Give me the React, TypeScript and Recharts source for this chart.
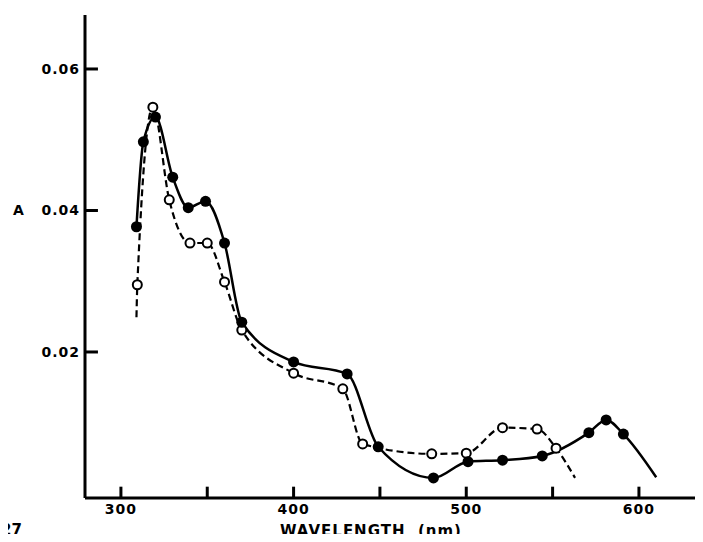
import { Line, LineChart, ReferenceLine, XAxis, YAxis } from 'recharts';

// absorbance spectra
const filledNm = [309, 313, 320, 330, 339, 349, 360, 370, 400, 431, 449, 481, 501, 521, 544, 571, 581, 591];
const filledA = [0.0377, 0.0497, 0.0532, 0.0447, 0.0404, 0.0413, 0.0354, 0.0242, 0.0186, 0.0169, 0.0066, 0.0022, 0.0045, 0.0047, 0.0053, 0.0086, 0.0104, 0.0084];
const filledTail = { nm: 610, a: 0.0023 };

const openNm = [309.5, 318.5, 328, 340, 350, 360, 370, 400, 428.5, 440, 480, 500, 521, 541, 552];
const openA = [0.0295, 0.0546, 0.0415, 0.0354, 0.0354, 0.0299, 0.0231, 0.017, 0.0148, 0.007, 0.0056, 0.0057, 0.0093, 0.0091, 0.0064];
const openHead = { nm: 309, a: 0.0249 };
const openTail = { nm: 563, a: 0.0022 };

const xTicks = [300, 350, 400, 450, 500, 550, 600];
const yTicks = [0.02, 0.04, 0.06];

const xDomain: [number, number] = [279.2, 637.1];
const yDomain: [number, number] = [-0.00064, 0.06763];

const filledData = [
  ...filledNm.map((nm, i) => ({ nm, a: filledA[i], marker: true })),
  { ...filledTail, marker: false },
];
const openData = [
  { ...openHead, marker: false },
  ...openNm.map((nm, i) => ({ nm, a: openA[i], marker: true })),
  { ...openTail, marker: false },
];

const font = '"DejaVu Sans", sans-serif';
const tickFont = { fontFamily: font, fontWeight: 'bold', fontSize: 14, fill: '#000', letterSpacing: 1 };

const filledDot = (p: any) =>
  p.payload.marker ? (
    <circle key={`f${p.index}`} cx={p.cx} cy={p.cy} r={5.5} fill="#000" />
  ) : (
    <g key={`f${p.index}`} />
  );

const openDot = (p: any) =>
  p.payload.marker ? (
    <circle key={`o${p.index}`} cx={p.cx} cy={p.cy} r={4.5} fill="#fff" stroke="#000" strokeWidth={2} />
  ) : (
    <g key={`o${p.index}`} />
  );

const textStyle = { position: 'absolute' as const, fontFamily: font, fontWeight: 'bold' as const, color: '#000', whiteSpace: 'pre' as const };

// inward tick marks, drawn as short segments from the axis (≈13 px / 11 px)
const yTickLen = 7.5; // nm
const xTickLen = 0.0016; // absorbance

export default function App() {
  return (
    <div style={{ margin: -8, position: 'relative', width: 703, height: 542, background: '#fff' }}>
      <LineChart width={703} height={542} margin={{ top: 15, right: 0, left: 84, bottom: 43 }}>
        <XAxis
          dataKey="nm"
          type="number"
          domain={xDomain}
          allowDataOverflow
          ticks={xTicks}
          interval={0}
          height={1}
          tickSize={0}
          tickMargin={6}
          tick={tickFont}
          tickFormatter={(v: number) => (v % 100 === 0 ? String(v) : '')}
          tickLine={false}
          axisLine={{ stroke: '#000', strokeWidth: 3 }}
        />
        <YAxis
          type="number"
          domain={yDomain}
          allowDataOverflow
          ticks={yTicks}
          interval={0}
          width={1}
          tickSize={0}
          tickMargin={5}
          tick={tickFont}
          tickFormatter={(v: number) => v.toFixed(2)}
          tickLine={false}
          axisLine={{ stroke: '#000', strokeWidth: 3 }}
        />
        {yTicks.map((t) => (
          <ReferenceLine
            key={`yt${t}`}
            segment={[{ x: xDomain[0], y: t }, { x: xDomain[0] + yTickLen, y: t }]}
            stroke="#000"
            strokeWidth={3}
            ifOverflow="visible"
          />
        ))}
        {xTicks.map((t) => (
          <ReferenceLine
            key={`xt${t}`}
            segment={[{ x: t, y: yDomain[0] }, { x: t, y: yDomain[0] + xTickLen }]}
            stroke="#000"
            strokeWidth={3}
            ifOverflow="visible"
          />
        ))}
        <Line
          data={openData}
          dataKey="a"
          type="monotone"
          stroke="#000"
          strokeWidth={2.2}
          strokeDasharray="7 4"
          dot={openDot}
          activeDot={false}
          isAnimationActive={false}
        />
        <Line
          data={filledData}
          dataKey="a"
          type="monotone"
          stroke="#000"
          strokeWidth={2.5}
          dot={filledDot}
          activeDot={false}
          isAnimationActive={false}
        />
      </LineChart>
      <div style={{ ...textStyle, left: 13, top: 202, fontSize: 14 }}>A</div>
      <div style={{ ...textStyle, left: 280, top: 522, fontSize: 15, letterSpacing: 1 }}>WAVELENGTH  (nm)</div>
      <div style={{ ...textStyle, left: 1, top: 521, fontSize: 15 }}>27</div>
    </div>
  );
}
